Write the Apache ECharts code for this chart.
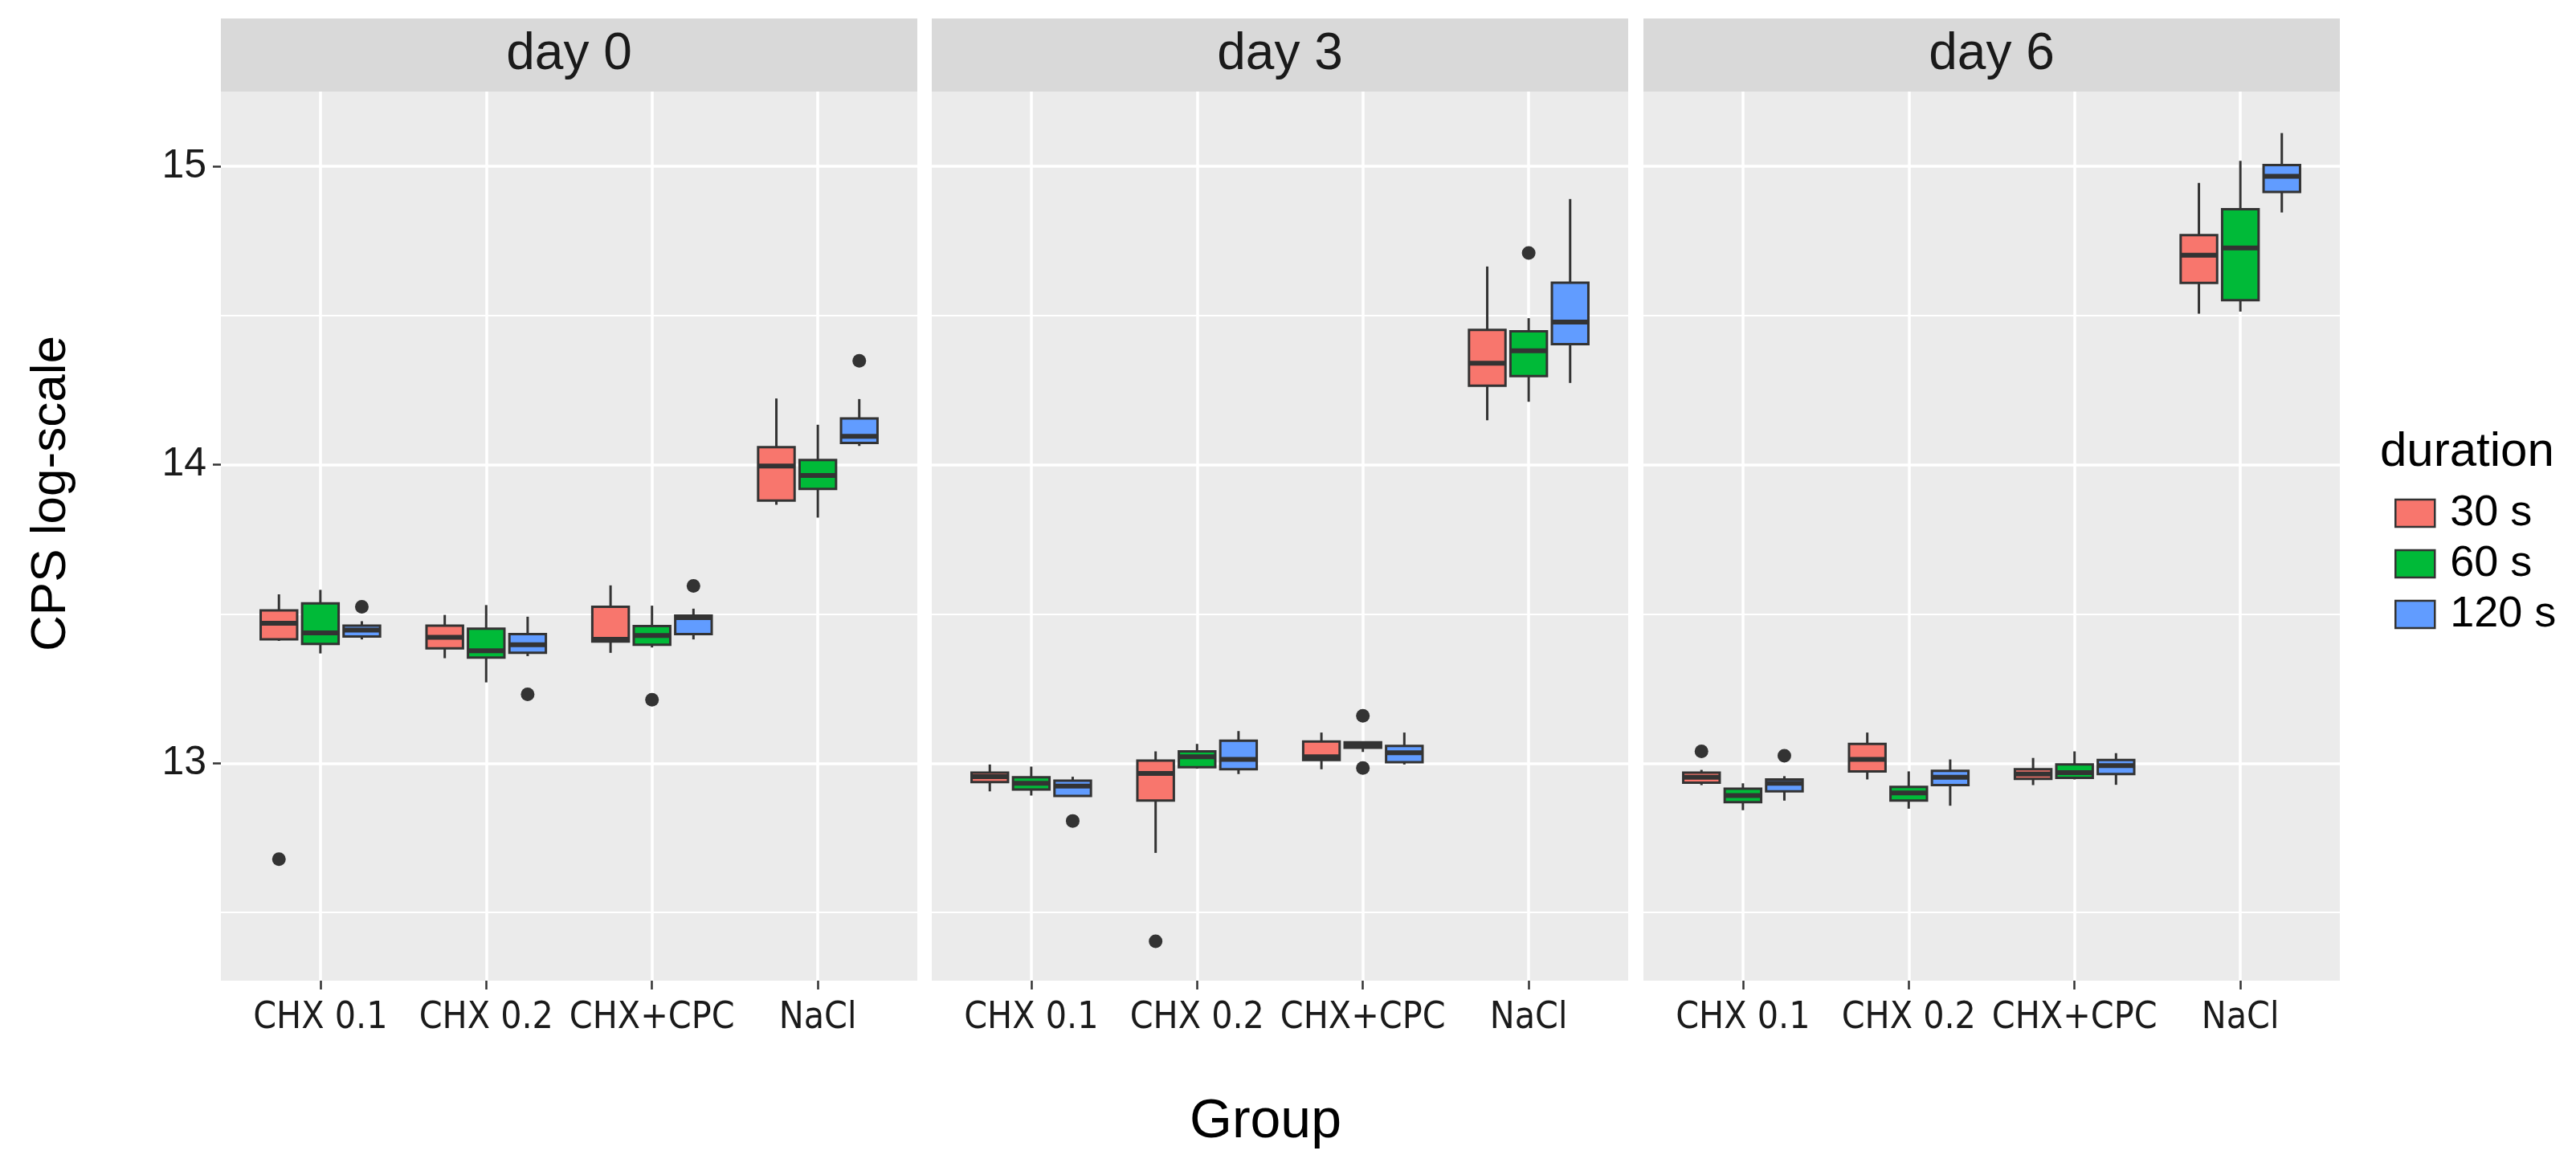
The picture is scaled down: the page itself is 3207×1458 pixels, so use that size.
<!DOCTYPE html>
<html><head><meta charset="utf-8">
<script src="https://cdn.jsdelivr.net/npm/echarts@6/dist/echarts.min.js"></script>
<style>html,body{margin:0;padding:0;background:#fff}#chart{width:3207px;height:1458px}</style>
</head><body><div id="chart"></div>
<script>
// ---------------- data ----------------
const days = ['day 0', 'day 3', 'day 6'];
const groups = ['CHX 0.1', 'CHX 0.2', 'CHX+CPC', 'NaCl'];
const durations = ['30 s', '60 s', '120 s'];
const yTicks = [13, 14, 15];
const yMinorTicks = [12.5, 13.5, 14.5];

// box stats per group: [lower whisker, Q1, median, Q3, upper whisker]
const day0_30s  = [[13.410, 13.415, 13.469, 13.512, 13.566], [13.352, 13.385, 13.422, 13.461, 13.497], [13.370, 13.408, 13.415, 13.524, 13.596], [13.866, 13.880, 13.996, 14.059, 14.222]];
const day0_60s  = [[13.368, 13.400, 13.437, 13.536, 13.581], [13.271, 13.354, 13.377, 13.451, 13.530], [13.388, 13.397, 13.428, 13.460, 13.528], [13.823, 13.919, 13.964, 14.016, 14.134]];
const day0_120s = [[13.415, 13.425, 13.446, 13.461, 13.476], [13.359, 13.370, 13.397, 13.433, 13.491], [13.415, 13.433, 13.488, 13.495, 13.518], [14.063, 14.073, 14.095, 14.155, 14.220]];

const day3_30s  = [[12.906, 12.937, 12.955, 12.969, 12.996], [12.700, 12.875, 12.966, 13.009, 13.040], [12.980, 13.011, 13.022, 13.073, 13.103], [14.149, 14.265, 14.340, 14.452, 14.664]];
const day3_60s  = [[12.892, 12.912, 12.933, 12.953, 12.989], [12.982, 12.987, 13.022, 13.040, 13.065], [13.038, 13.052, 13.061, 13.070, 13.073], [14.211, 14.297, 14.382, 14.447, 14.491]];
const day3_120s = [[12.888, 12.891, 12.924, 12.942, 12.955], [12.964, 12.980, 13.013, 13.076, 13.108], [12.996, 13.004, 13.035, 13.058, 13.103], [14.274, 14.404, 14.478, 14.610, 14.890]];

const day6_30s  = [[12.927, 12.935, 12.953, 12.969, 12.978], [12.946, 12.973, 13.013, 13.065, 13.103], [12.927, 12.948, 12.964, 12.980, 13.018], [14.506, 14.609, 14.702, 14.769, 14.944]];
const day6_60s  = [[12.843, 12.870, 12.892, 12.915, 12.933], [12.848, 12.875, 12.901, 12.921, 12.973], [12.946, 12.951, 12.969, 12.996, 13.040], [14.513, 14.551, 14.726, 14.856, 15.018]];
const day6_120s = [[12.875, 12.906, 12.933, 12.946, 12.957], [12.858, 12.927, 12.953, 12.975, 13.013], [12.928, 12.964, 12.992, 13.011, 13.034], [14.845, 14.914, 14.966, 15.004, 15.111]];

// outliers: [group index, duration index, value]
const outliersDay0 = [[0, 0, 12.679], [0, 2, 13.524], [1, 2, 13.231], [2, 1, 13.213], [2, 2, 13.594], [3, 2, 14.348]];
const outliersDay3 = [[0, 2, 12.807], [1, 0, 12.404], [2, 1, 13.159], [2, 1, 12.984], [3, 1, 14.709]];
const outliersDay6 = [[0, 0, 13.040], [0, 2, 13.025]];

const stats = [[day0_30s, day0_60s, day0_120s], [day3_30s, day3_60s, day3_120s], [day6_30s, day6_60s, day6_120s]];
const outliers = [outliersDay0, outliersDay3, outliersDay6];

// ---------------- layout / style ----------------
const panelLeft = [275, 1160, 2046];
const panelWidth = 867, panelTop = 114, panelHeight = 1107, stripTop = 23;
const yMin = 12.272, yMax = 15.25;
const colors = ['#F8766D', '#00BA38', '#619CFF'];
const dodge = 0.25, boxW = 0.22;
const dark = '#333333';
const FONT = 'Liberation Sans, Arial, sans-serif';
const NARROW = '"Liberation Sans Narrow", "DejaVu Sans Condensed", sans-serif';
const groupIdx = groups.map((g, i) => i);

const chart = echarts.init(document.getElementById('chart'), null, {renderer: 'canvas'});

const grid = [], xAxis = [], yAxis = [], series = [], graphic = [];
days.forEach((day, di) => {
  grid.push({left: panelLeft[di], top: panelTop, width: panelWidth, height: panelHeight,
    show: true, backgroundColor: '#EBEBEB', borderWidth: 0, containLabel: false, outerBoundsMode: 'none'});
  xAxis.push({
    type: 'value', gridIndex: di, position: 'bottom', min: -0.6, max: groups.length - 0.4,
    axisLine: {show: false},
    axisTick: {show: true, customValues: groupIdx, length: 11, lineStyle: {color: dark, width: 2.5}},
    axisLabel: {show: true, customValues: groupIdx, formatter: v => groups[Math.round(v)],
      fontSize: 46, fontFamily: NARROW, color: '#1a1a1a', margin: 24, hideOverlap: false},
    splitLine: {show: true, lineStyle: {color: '#ffffff', width: 3.5}},
    name: di === 1 ? 'Group' : '', nameLocation: 'middle', nameGap: 142,
    nameTextStyle: {fontSize: 68, color: '#000', fontFamily: FONT, padding: [0, 36, 0, 0]}
  });
  // minor grid axis
  yAxis.push({
    type: 'value', gridIndex: di, position: 'left', min: yMin, max: yMax,
    axisLine: {show: false},
    axisTick: {show: false, customValues: yMinorTicks},
    axisLabel: {show: false, customValues: yMinorTicks},
    splitLine: {show: true, lineStyle: {color: '#ffffff', width: 1.8}}
  });
  // major axis
  yAxis.push({
    type: 'value', gridIndex: di, position: 'left', offset: 0, min: yMin, max: yMax,
    axisLine: {show: false},
    axisTick: {show: di === 0, customValues: yTicks, length: 10, lineStyle: {color: dark, width: 2.5}},
    axisLabel: {show: di === 0, customValues: yTicks, margin: 18, fontSize: 50, color: '#1a1a1a', fontFamily: FONT},
    splitLine: {show: true, lineStyle: {color: '#ffffff', width: 3.5}},
    name: di === 0 ? 'CPS log-scale' : '', nameLocation: 'middle', nameRotate: 90, nameGap: 180,
    nameTextStyle: {fontSize: 62, color: '#000', fontFamily: FONT, padding: [0, 0, 0, 106]}
  });

  durations.forEach((dur, ki) => {
    series.push({
      type: 'custom', name: dur, xAxisIndex: di, yAxisIndex: di * 2 + 1,
      itemStyle: {color: colors[ki], borderColor: dark},
      encode: {x: 0, y: [1, 2, 3, 4, 5]},
      data: stats[di][ki].map((s, gi) => [gi].concat(s)),
      renderItem: function (params, api) {
        const x = api.value(0) + (ki - 1) * dodge;
        const p = [1, 2, 3, 4, 5].map(k => api.coord([x, api.value(k)]));
        const cx = p[0][0];
        const hw = api.size([boxW, 0])[0] / 2;
        const ls = {stroke: dark, lineWidth: 3};
        return {type: 'group', children: [
          {type: 'line', shape: {x1: cx, y1: p[3][1], x2: cx, y2: p[4][1]}, style: ls},
          {type: 'line', shape: {x1: cx, y1: p[0][1], x2: cx, y2: p[1][1]}, style: ls},
          {type: 'rect', shape: {x: cx - hw, y: p[3][1], width: 2 * hw, height: p[1][1] - p[3][1]},
            style: {fill: colors[ki], stroke: dark, lineWidth: 3}},
          {type: 'line', shape: {x1: cx - hw, y1: p[2][1], x2: cx + hw, y2: p[2][1]},
            style: {stroke: dark, lineWidth: 6}}
        ]};
      }
    });
  });
  series.push({
    type: 'scatter', name: 'outliers', xAxisIndex: di, yAxisIndex: di * 2 + 1,
    symbolSize: 17, itemStyle: {color: dark, opacity: 1}, z: 5,
    data: outliers[di].map(o => [o[0] + (o[1] - 1) * dodge, o[2]])
  });

  // facet strip
  graphic.push({type: 'rect', left: panelLeft[di], top: stripTop, silent: true,
    shape: {width: panelWidth, height: panelTop - stripTop}, style: {fill: '#D9D9D9'}});
  graphic.push({type: 'text', x: panelLeft[di] + panelWidth / 2, y: (stripTop + panelTop) / 2, silent: true,
    style: {text: day, fontSize: 64, fontFamily: FONT, fill: '#1a1a1a', align: 'center', verticalAlign: 'middle'}});
});

chart.setOption({
  animation: false,
  backgroundColor: '#ffffff',
  textStyle: {fontFamily: FONT},
  title: {text: 'duration', left: 2958, top: 528, textStyle: {fontSize: 60, fontWeight: 'normal', color: '#000', fontFamily: FONT}},
  legend: {
    orient: 'vertical', left: 2976, top: 607, itemWidth: 49, itemHeight: 34, itemGap: 9,
    icon: 'rect', data: durations, selectedMode: false,
    itemStyle: {borderColor: dark, borderWidth: 2.5},
    textStyle: {fontSize: 54, color: '#000', fontFamily: FONT, padding: [0, 0, 0, 14]}
  },
  grid, xAxis, yAxis, series, graphic
});
</script></body></html>
